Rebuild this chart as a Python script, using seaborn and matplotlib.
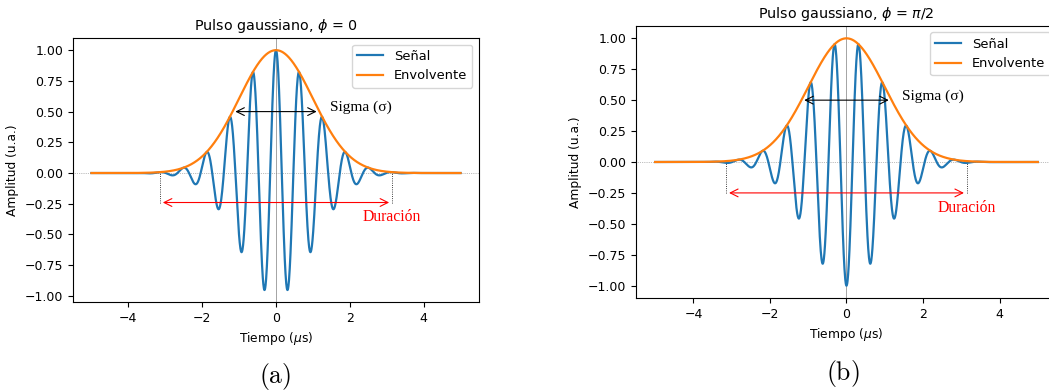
import numpy as np
import matplotlib
matplotlib.use("Agg")
import matplotlib.pyplot as plt
import seaborn as sns

# pulse parameters
t_start, t_end, n_samples = -5.0, 5.0, 2000
sigma_us = 1.0            # envelope width (0.5 crossing at +-1.18)
carrier_w = 10.0          # rad/us, period ~0.63 us
phase_plotted = [0.0, np.pi]   # panel (b) starts on a -1 minimum
titles = [r"Pulso gaussiano, $\phi$ = 0", r"Pulso gaussiano, $\phi$ = $\pi/2$"]
captions = ["(a)", "(b)"]
duration_half = [np.pi, np.pi]
duration_y = [-0.24, -0.25]
duration_text_y = [-0.36, -0.375]
sigma_half = sigma_us * np.sqrt(2 * np.log(2))

t = np.linspace(t_start, t_end, n_samples)
envelope = np.exp(-t**2 / (2 * sigma_us**2))

plt.rcParams["font.size"] = 9
plt.rcParams["axes.titlesize"] = 10.3
plt.rcParams["axes.labelsize"] = 8.8
plt.rcParams["legend.fontsize"] = 9.4
plt.rcParams["xtick.labelsize"] = 9
plt.rcParams["ytick.labelsize"] = 9
plt.rcParams["lines.linewidth"] = 1.6

fig = plt.figure(figsize=(10.49, 3.92), dpi=100)
axes = [fig.add_axes([0.0696, 0.2296, 0.387, 0.673]),
        fig.add_axes([0.6063, 0.2398, 0.4013, 0.694])]
caption_pos = [(0.262, 0.039), (0.8035, 0.046)]

for i, ax in enumerate(axes):
    signal = envelope * np.cos(carrier_w * t + phase_plotted[i])
    sns.lineplot(x=t, y=signal, ax=ax, color="C0", label="Señal")
    sns.lineplot(x=t, y=envelope, ax=ax, color="C1", label="Envolvente")
    ax.axhline(0, color="gray", lw=0.5, ls=":", zorder=0)
    ax.axvline(0, color="gray", lw=0.5, zorder=0)

    # sigma arrow
    ax.annotate("", xy=(-sigma_half, 0.5), xytext=(sigma_half, 0.5),
                arrowprops=dict(arrowstyle="<->", color="black", lw=0.8, mutation_scale=14))
    ax.text(1.45, 0.535, "Sigma (σ)", family="Liberation Serif", fontsize=11.1, va="center")

    # duration arrow
    d = duration_half[i]
    ax.vlines([-d, d], duration_y[i], 0, colors="black", lw=0.6, ls=":")
    ax.annotate("", xy=(-d, duration_y[i]), xytext=(d, duration_y[i]),
                arrowprops=dict(arrowstyle="<->", color="red", lw=0.8, mutation_scale=14))
    ax.text(d, duration_text_y[i], "Duración", family="Liberation Serif", fontsize=11.3,
            color="red", ha="center", va="center")

    ax.set_title(titles[i])
    ax.set_xlabel(r"Tiempo ($\mu$s)")
    ax.set_ylabel("Amplitud (u.a.)")
    ax.set_xticks([-4, -2, 0, 2, 4])
    ax.set_yticks(np.arange(-1.0, 1.01, 0.25))
    ax.legend(loc="upper right")
    fig.text(caption_pos[i][0], caption_pos[i][1], r"$\mathrm{" + captions[i] + "}$",
             fontsize=18.5, ha="center", va="center", math_fontfamily="cm")

fig.savefig("out.png", dpi=100)
